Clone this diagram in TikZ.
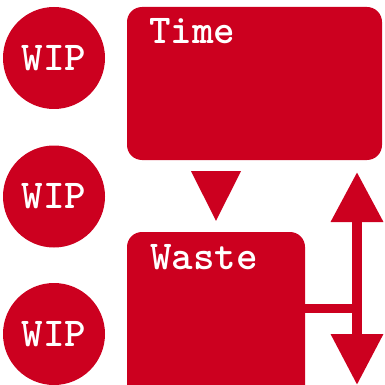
\documentclass[tikz,border=0pt]{standalone}
\usetikzlibrary{arrows.meta,calc}
\definecolor{wipred}{HTML}{CC001F}

\tikzset{
  bigtype/.style={text=white,font=\fontsize{41}{42}\selectfont\ttfamily\bfseries},
  wipdot/.style={circle,fill=wipred,minimum size=102pt,inner sep=0pt,bigtype},
  stagebox/.style={rectangle,rounded corners=15pt,fill=wipred,inner sep=0pt},
  stagename/.style={anchor=base west,inner sep=0pt,bigtype},
}

\begin{document}
\begin{tikzpicture}[x=1pt,y=-1pt]
  \clip (0,0) rectangle (385,385);

  % work in progress
  \foreach \n/\y in {1/58, 2/196.5, 3/334} {
    \node[wipdot] (wip\n) at (54,\y) {WIP};
  }

  % the two stages
  \node[stagebox,minimum width=255pt,minimum height=153pt] (time) at (254.5,83.5) {};
  \node[stagebox,minimum width=178pt,minimum height=170pt] (waste) at (216,317) {};
  \node[stagename] (timename) at (149,44) {Time};
  \node[stagename] (wastename) at (150,269) {Waste};

  % flow from time into waste
  \fill[wipred] ($(time.south -| waste.north)+(-25,11)$) -- ++(50,0)
    -- ($(waste.north)+(0,-11)$) -- cycle;

  % swing up and down
  \coordinate (uptip) at (357,172);
  \coordinate (downtip) at (357,385);
  \coordinate (joint) at (357,308.5);
  \draw[wipred,line width=10pt,{Triangle[length=50pt,width=50pt]}-{Triangle[length=51pt,width=50pt]}]
    (uptip) -- (downtip);
  \draw[wipred,line width=9pt] (waste.east |- joint) -- (joint);
\end{tikzpicture}
\end{document}
